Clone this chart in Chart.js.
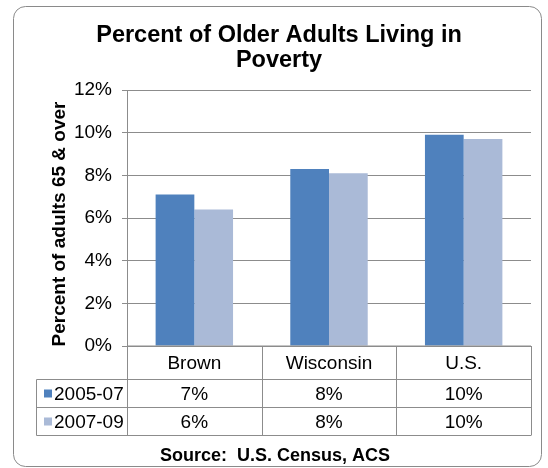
<!DOCTYPE html>
<html>
<head>
<meta charset="utf-8">
<script src="https://cdn.jsdelivr.net/npm/chart.js@4/dist/chart.umd.min.js"></script>
<style>
  html, body { margin: 0; padding: 0; background: #fff; }
  #wrap { width: 548px; height: 468px; }
</style>
</head>
<body>
<div id="wrap"><canvas id="myChart" width="548" height="468"></canvas></div>
<script>
// Categories and series
var categories = ['Brown', 'Wisconsin', 'U.S.'];
var seriesNames = ['2005-07', '2007-09'];
var values2005 = [7.1, 8.3, 9.9];
var values2007 = [6.4, 8.1, 9.7];
var seriesColors = ['#4F81BD', '#AABAD7'];

var chartTitle = ['Percent of Older Adults Living in', 'Poverty'];
var yTitle = 'Percent of adults 65 & over';
var sourceText = 'Source:  U.S. Census, ACS';

var FONT = '"Liberation Sans", Arial, sans-serif';
var lineColor = '#8c8c8c';

// draws the frame, titles and the data table under the plot
var decorPlugin = {
    id: 'decor',
    beforeDraw: function(chart) {
        var c = chart.ctx;
        c.save();
        c.strokeStyle = '#8a8a8a';
        c.lineWidth = 1;
        c.beginPath();
        c.roundRect(13.5, 6.5, 528, 460, 12);
        c.stroke();
        c.restore();
    },
    afterDraw: function(chart) {
        var c = chart.ctx;
        var area = chart.chartArea;
        var x = chart.scales.x;
        var half = (area.right - area.left) / categories.length / 2;

        c.save();
        c.fillStyle = '#000';

        // title
        c.font = 'bold 23.5px ' + FONT;
        c.textAlign = 'center';
        c.textBaseline = 'alphabetic';
        c.fillText(chartTitle[0], 279, 42);
        c.fillText(chartTitle[1], 279, 67);

        // y axis title
        c.save();
        c.translate(60, 224);
        c.rotate(-Math.PI / 2);
        c.font = 'bold 19px ' + FONT;
        c.textBaseline = 'middle';
        c.fillText(yTitle, 0, 0);
        c.restore();

        // data table
        var tableLeft = 36.5;
        var rows = [area.bottom, 379.5, 407.5, 435.5];
        c.strokeStyle = lineColor;
        c.lineWidth = 1;
        c.beginPath();
        c.moveTo(area.left, rows[0]); c.lineTo(area.right, rows[0]);
        for (var r = 1; r < rows.length; r++) {
            c.moveTo(tableLeft, rows[r]); c.lineTo(area.right, rows[r]);
        }
        c.moveTo(tableLeft, rows[1]); c.lineTo(tableLeft, rows[3]);
        for (var i = 0; i < categories.length; i++) {
            var bx = Math.round(x.getPixelForValue(i) - half) + 0.5;
            c.moveTo(bx, rows[0]); c.lineTo(bx, rows[3]);
        }
        var rx = Math.round(area.right) + 0.5;
        c.moveTo(rx, rows[0]); c.lineTo(rx, rows[3]);
        c.stroke();

        c.font = '19px ' + FONT;
        c.textBaseline = 'middle';
        c.textAlign = 'center';
        for (var j = 0; j < categories.length; j++) {
            var cx = x.getPixelForValue(j);
            c.fillText(categories[j], cx, (rows[0] + rows[1]) / 2 + 1);
            chart.data.datasets.forEach(function(ds, k) {
                c.fillText(Math.round(ds.data[j]) + '%', cx, (rows[k + 1] + rows[k + 2]) / 2 + 1);
            });
        }
        // series names with colour keys
        c.textAlign = 'left';
        seriesNames.forEach(function(name, k) {
            var cy = (rows[k + 1] + rows[k + 2]) / 2;
            c.fillStyle = seriesColors[k];
            c.fillRect(44, cy - 4, 8, 8);
            c.fillStyle = '#000';
            c.fillText(name, 54, cy + 1);
        });

        // source line
        c.font = 'bold 18px ' + FONT;
        c.textAlign = 'center';
        c.fillText(sourceText, 275, 456);
        c.restore();
    }
};

var ctx = document.getElementById('myChart').getContext('2d');

var myChart = new Chart(ctx, {
    type: 'bar',
    data: {
        labels: categories,
        datasets: [{
            label: seriesNames[0],
            data: values2005,
            backgroundColor: seriesColors[0]
        }, {
            label: seriesNames[1],
            data: values2007,
            backgroundColor: seriesColors[1]
        }]
    },
    options: {
        responsive: false,
        animation: false,
        devicePixelRatio: 1,
        layout: {
            padding: { left: 0, top: 90, right: 17, bottom: 122 }
        },
        datasets: {
            bar: { categoryPercentage: 0.575, barPercentage: 1.0 }
        },
        scales: {
            x: {
                grid: { display: false },
                border: { display: false },
                ticks: { display: false },
                afterFit: function(scale) { scale.height = 0; }
            },
            y: {
                min: 0,
                max: 12,
                afterFit: function(scale) { scale.width = 127; },
                grid: { color: lineColor, tickLength: 5 },
                border: { color: lineColor },
                ticks: {
                    stepSize: 2,
                    padding: 10,
                    color: '#000',
                    font: { family: FONT, size: 19 },
                    callback: function(v) { return v + '%'; }
                }
            }
        },
        plugins: {
            legend: { display: false },
            title: { display: false },
            tooltip: { enabled: false }
        }
    },
    plugins: [decorPlugin]
});
</script>
</body>
</html>
